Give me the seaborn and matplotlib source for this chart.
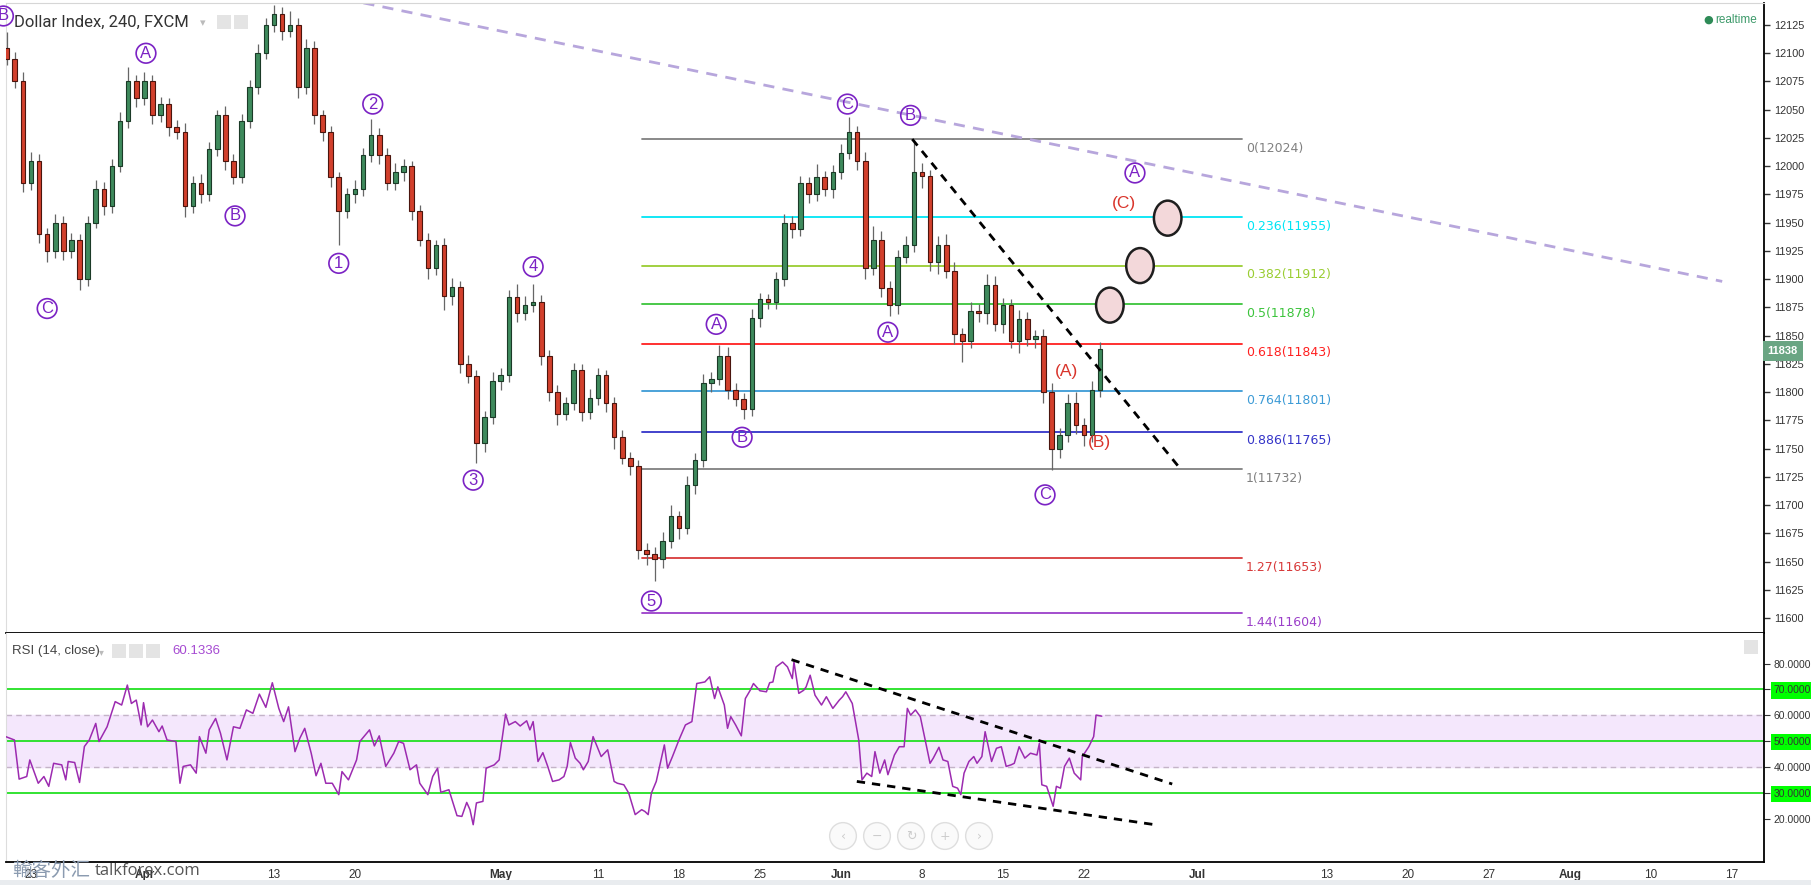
import numpy as np
import pandas as pd
import seaborn as sns
import matplotlib.pyplot as plt
import matplotlib.transforms as mtransforms
from matplotlib.patches import Ellipse, Rectangle

# ---- data (x = trading day number, 0 = 19 Mar 2015) ----
first_open = 12105
closes = [12095, 12075, 11985, 12005, 11940, 11925, 11950, 11925, 11935, 11900,
          11950, 11980, 11965, 12000, 12040, 12075, 12060, 12075, 12045, 12055,
          12035, 12030, 11965, 11985, 11975, 12015, 12045, 12005, 11990, 12040,
          12070, 12100, 12125, 12135, 12120, 12125, 12070, 12105, 12045, 12030,
          11990, 11960, 11975, 11980, 12010, 12028, 12010, 11985, 11995, 12000,
          11960, 11935, 11910, 11930, 11885, 11893, 11825, 11814, 11755, 11778,
          11810, 11815, 11884, 11870, 11877, 11880, 11832, 11800, 11781, 11790,
          11820, 11782, 11795, 11815, 11790, 11760, 11742, 11735, 11660, 11657,
          11652, 11668, 11690, 11680, 11718, 11740, 11808, 11812, 11832, 11802,
          11794, 11785, 11866, 11882, 11880, 11900, 11950, 11944, 11985, 11975,
          11990, 11980, 11995, 12012, 12030, 12005, 11910, 11935, 11892, 11877,
          11920, 11930, 11995, 11991, 11915, 11930, 11907, 11851, 11845, 11872,
          11870, 11895, 11860, 11877, 11845, 11865, 11847, 11850, 11800, 11750,
          11762, 11790, 11771, 11762, 11802, 11838]
wick_hi = [14, 6, 8, 8, 6, 5, 8, 6, 6, 5,
           6, 8, 6, 6, 8, 13, 6, 8, 6, 6,
           5, 6, 8, 6, 8, 6, 5, 8, 6, 6,
           6, 8, 6, 8, 6, 12, 6, 8, 6, 5,
           6, 5, 6, 8, 6, 14, 6, 6, 8, 6,
           5, 6, 6, 5, 6, 8, 5, 8, 6, 5,
           8, 6, 6, 12, 8, 16, 6, 5, 6, 6,
           6, 5, 8, 6, 5, 6, 6, 5, 5, 6,
           6, 8, 10, 5, 8, 6, 8, 6, 10, 8,
           6, 5, 8, 6, 5, 6, 8, 6, 6, 5,
           12, 6, 6, 8, 14, 6, 8, 12, 8, 6,
           6, 8, 28, 8, 6, 8, 10, 8, 6, 8,
           6, 10, 8, 6, 5, 8, 6, 5, 6, 8,
           6, 8, 10, 6, 8, 6]
wick_lo = [5, 6, 8, 6, 8, 10, 6, 8, 6, 10,
           6, 5, 8, 6, 5, 6, 8, 6, 8, 6,
           8, 6, 10, 6, 8, 6, 6, 8, 6, 5,
           6, 6, 5, 6, 8, 6, 10, 6, 8, 8,
           8, 30, 6, 8, 6, 6, 8, 6, 6, 8,
           8, 6, 10, 6, 12, 8, 8, 6, 18, 8,
           6, 8, 6, 8, 6, 6, 8, 8, 10, 6,
           6, 8, 6, 6, 8, 10, 6, 8, 8, 10,
           19, 8, 6, 10, 6, 8, 6, 8, 6, 8,
           6, 9, 6, 8, 6, 6, 6, 8, 6, 8,
           6, 6, 8, 6, 6, 8, 10, 6, 8, 10,
           8, 6, 6, 10, 8, 10, 6, 8, 18, 6,
           8, 10, 6, 8, 6, 10, 6, 8, 10, 19,
           8, 6, 8, 10, 6, 6]

rsi_day = [0.44, 0.98, 1.27, 1.74, 1.93, 2.45, 2.8, 3.1, 3.4, 3.9, 4.15, 4.3, 4.7, 5.0,
           5.3, 5.6, 6.0, 6.2, 6.7, 7.2, 7.6, 7.95, 8.2, 8.5, 8.8, 8.95, 9.2, 9.5, 9.9,
           10.1, 10.4, 10.95, 11.2, 11.4, 11.85, 12.2, 12.4, 12.8, 13.0, 13.4, 13.7,
           14.1, 14.5, 14.9, 15.3, 15.7, 16.1, 16.5, 16.9, 17.3, 17.6, 17.9, 18.3,
           18.6, 18.9, 19.3, 19.6, 19.9, 20.2, 20.6, 21.0, 21.2, 21.6, 22.1, 22.3,
           22.9, 23.2, 23.5, 23.9, 24.4, 24.7, 25.0, 25.4, 25.8, 26.0, 26.5, 26.8,
           27.1, 27.3, 27.8, 28.3, 28.6, 28.9, 29.1, 29.3, 29.5, 29.9, 30.1, 30.6,
           30.9, 31.3, 31.5, 31.9, 32.2, 32.6, 32.8, 33.0, 33.3, 33.6, 33.9, 34.2,
           34.6, 34.9, 35.1, 35.3, 35.6, 35.9, 36.1, 36.4, 36.7, 37.2, 37.6, 38.0,
           38.2, 38.6, 38.9, 39.3, 39.7, 39.9, 40.1, 40.3, 40.6, 41.1, 41.3, 41.6,
           42.0, 42.4, 42.8, 43.1, 43.6, 43.9, 44.2, 44.4, 44.8, 45.0, 45.2, 45.5,
           45.85, 46.1, 46.4, 46.6, 47.0, 47.4, 47.6, 47.8, 48.0, 48.4, 48.7, 49.0,
           49.1, 49.4, 49.7, 49.85, 50.1, 50.4, 50.8, 51.1, 51.5, 51.9, 52.1, 52.3,
           52.7, 53.1, 53.3, 53.6, 53.9, 54.1, 54.4, 54.7, 54.9, 55.3, 55.6, 55.9,
           56.1, 56.3, 56.6, 56.9, 57.2, 57.5, 57.7, 58.05, 58.3, 58.6, 58.9, 59.2,
           59.4, 59.6, 59.9, 60.2, 60.4, 60.7, 60.9, 61.3, 61.6, 61.9, 62.2, 62.5,
           62.7, 63.0, 63.35, 63.7, 64.1, 64.25, 64.4, 64.7, 65.1, 65.3, 65.55, 65.8,
           66.1, 66.4, 66.8, 66.9, 67.3, 67.6, 67.75, 68.1]
rsi_val = [51.8, 50.5, 35.4, 36.4, 42.8, 33.8, 36.4, 32.6, 41.5, 40.9, 35.1, 42.2, 41.8, 34.1,
           48.0, 50.5, 56.9, 49.9, 55.6, 65.3, 64.0, 71.7, 64.6, 65.9, 56.3, 64.9, 55.6, 58.2, 53.7,
           55.9, 50.5, 49.9, 33.8, 40.3, 40.9, 37.7, 51.8, 45.4, 54.4, 58.8, 53.1,
           42.8, 55.6, 55.0, 62.1, 60.8, 68.2, 63.1, 72.6, 62.7, 57.6, 63.3, 46.0,
           51.2, 55.0, 45.4, 36.7, 41.5, 33.8, 33.8, 29.4, 38.3, 35.1, 42.8, 49.9,
           54.4, 48.2, 52.1, 40.3, 45.4, 49.9, 49.2, 39.0, 40.9, 33.8, 29.4, 36.4,
           39.6, 30.3, 31.3, 21.3, 21.0, 26.4, 23.6, 17.8, 26.2, 26.8, 39.6, 40.9,
           42.8, 60.5, 56.3, 57.6, 55.9, 57.9, 54.4, 57.6, 42.2, 45.6, 40.3, 34.5,
           35.1, 36.4, 40.3, 49.5, 43.5, 41.5, 39.0, 42.2, 51.8, 44.1, 46.7, 34.5,
           33.8, 33.2, 30.0, 21.7, 23.6, 22.9, 21.7, 30.0, 34.5, 48.6, 39.6, 44.1,
           50.5, 56.3, 57.6, 72.3, 72.9, 74.9, 66.5, 71.0, 64.0, 55.0, 59.5, 56.3,
           52.1, 66.5, 69.7, 72.3, 69.5, 69.1, 72.6, 72.9, 78.7, 80.6, 78.7, 74.2,
           80.6, 68.5, 69.7, 71.0, 75.5, 67.8, 64.0, 67.2, 62.7, 65.9, 67.2, 69.1,
           64.6, 50.5, 35.1, 37.7, 36.4, 46.0, 37.7, 42.8, 37.1, 44.7, 47.9, 47.9,
           62.7, 60.1, 62.1, 59.5, 50.5, 41.5, 43.5, 47.7, 42.8, 42.2, 32.6, 31.9,
           29.4, 37.7, 42.2, 44.1, 41.5, 44.1, 53.7, 42.2, 47.3, 47.9, 40.3, 40.9,
           41.5, 47.9, 43.5, 45.4, 44.7, 49.2, 33.2, 32.6, 24.9, 32.6, 31.9, 40.3,
           43.5, 37.7, 35.1, 44.1, 47.9, 51.8, 60.1, 59.7]

fib_ratio = ['0', '0.236', '0.382', '0.5', '0.618', '0.764', '0.886', '1', '1.27', '1.44']
fib_price = [12024, 11955, 11912, 11878, 11843, 11801, 11765, 11732, 11653, 11604]
fib_color = ['#808080', '#00e5f5', '#9acd32', '#3cc43c', '#ff2020', '#3d9bd6',
             '#3434c8', '#808080', '#d83a3a', '#9b3fc9']
fib_span = [39.7, 76.75]

wave_text = ['B', 'C', 'A', 'B', '1', '2', '3', '4', '5', 'A', 'B', 'C', 'A', 'B', 'C', 'A']
wave_day = [0.3, 3.0, 9.1, 14.6, 21.0, 23.1, 29.3, 33.0, 40.3, 44.3, 45.9, 52.4, 54.9, 56.3, 64.6, 70.15]
wave_price = [12133, 11874, 12100, 11956, 11914, 12055, 11722, 11911, 11615, 11860,
              11760, 12055, 11853, 12045, 11709, 11994]
sub_text = ['(A)', '(B)', '(C)']
sub_day = [65.93, 67.98, 69.5]
sub_price = [11818, 11755, 11967]

target_day = [68.6, 70.46, 72.17]
target_price = [11877, 11912, 11954]

resist_day, resist_price = [20.0, 106.4], [12152, 11898]
wedge_day, wedge_price = [56.4, 72.9], [12024, 11733]
rsi_top_day, rsi_top_val = [48.95, 72.45], [81.5, 33.5]
rsi_bot_day, rsi_bot_val = [52.98, 71.6], [34.5, 17.6]

tick_dates = ['2015-03-23', '2015-04-01', '2015-04-13', '2015-04-20', '2015-05-01',
              '2015-05-11', '2015-05-18', '2015-05-25', '2015-06-01', '2015-06-08',
              '2015-06-15', '2015-06-22', '2015-07-01', '2015-07-13', '2015-07-20',
              '2015-07-27', '2015-08-03', '2015-08-10', '2015-08-17']
tick_text = ['23', 'Apr', '13', '20', 'May', '11', '18', '25', 'Jun', '8', '15', '22',
             'Jul', '13', '20', '27', 'Aug', '10', '17']

last_price = 11838
rsi_last = '60.1336'

# ---- figure ----
sns.set_style('white')
plt.rcParams['font.family'] = ['Liberation Sans', 'DejaVu Sans']

W, H = 1811, 885
fig = plt.figure(figsize=(W / 100, H / 100), dpi=100)


def fpos(x, y):
    return x / W, 1 - y / H


ax = fig.add_axes([6 / W, 1 - 633 / H, 1758 / W, 630 / H])
ax2 = fig.add_axes([6 / W, 1 - 862 / H, 1758 / W, 229 / H], sharex=ax)

# candles
df = pd.DataFrame({'day': np.arange(1, len(closes) + 1) * 0.5, 'close': closes})
df['open'] = [first_open] + closes[:-1]
df['high'] = df[['open', 'close']].max(axis=1) + np.array(wick_hi)
df['low'] = df[['open', 'close']].min(axis=1) - np.array(wick_lo)
up = df['close'] >= df['open']
ax.vlines(df['day'], df['low'], df['high'], color='#666666', lw=0.9, zorder=3)
for mask, col, edge in [(up, '#3e8a5c', '#1b3a27'), (~up, '#d2402c', '#4a150e')]:
    d = df[mask]
    ax.bar(d['day'], np.maximum((d['close'] - d['open']).abs(), 1.5),
           bottom=d[['open', 'close']].min(axis=1), width=0.28,
           color=col, edgecolor=edge, lw=0.8, zorder=4)

# fibonacci levels
for r, p, c in zip(fib_ratio, fib_price, fib_color):
    ax.plot(fib_span, [p, p], color=c, lw=1.3, zorder=2)
    ax.annotate(f'{r}({p})', (fib_span[1], p), xytext=(3, -2), textcoords='offset points',
                ha='left', va='top', color=c, fontsize=9, family='DejaVu Sans')

# trend lines
ax.plot(resist_day, resist_price, color='#b7a6dc', lw=2, ls=(0, (4, 3)), zorder=2)
ax.plot(wedge_day, wedge_price, color='black', lw=2, ls=(0, (3, 2.5)), zorder=5)

# target ellipses
for d, p in zip(target_day, target_price):
    ax.add_patch(Ellipse((d, p), 1.7, 31, fc='#f3d8da', ec='#1e1e1e', lw=1.8, zorder=6))

# wave labels
purple = '#7b22c4'
for t, d, p in zip(wave_text, wave_day, wave_price):
    ax.text(d, p, t, ha='center', va='center', color=purple, fontsize=12, zorder=7,
            bbox=dict(boxstyle='circle,pad=0.14', fc='none', ec=purple, lw=1.2))
for t, d, p in zip(sub_text, sub_day, sub_price):
    ax.text(d, p, t, ha='center', va='center', color='#d9342b', fontsize=12.5, zorder=7)

ax.set_xlim(0.46, 108.98)
ax.set_ylim(11586.7, 12144.5)
ax.yaxis.tick_right()
ax.set_yticks(np.arange(11600, 12126, 25))
ax.set_yticklabels([str(v) for v in range(11600, 12126, 25)])
ax.tick_params(axis='y', direction='out', length=4, width=1, colors='#333333',
               labelsize=7.8, pad=3)
ax.tick_params(axis='x', bottom=False, labelbottom=False)
tr = mtransforms.blended_transform_factory(ax.transAxes, ax.transData)
ax.text(1.002, last_price - 2, str(last_price), transform=tr, ha='left', va='center',
        color='white', fontsize=8, fontweight='bold', zorder=10,
        bbox=dict(boxstyle='square,pad=0.45', fc='#6aa583', ec='none'))

# RSI pane
ax2.axhspan(40, 60, color='#f4e7fc', zorder=0)
for lvl in (40, 60):
    ax2.axhline(lvl, color='#c4b4c8', lw=1, ls=(0, (4, 3)), zorder=1)
for lvl in (30, 50, 70):
    ax2.axhline(lvl, color='#22e022', lw=1.3, zorder=1)
sns.lineplot(x=rsi_day, y=rsi_val, ax=ax2, color='#9c2bb0', lw=1.1, zorder=3)
ax2.plot(rsi_top_day, rsi_top_val, color='black', lw=2, ls=(0, (3, 2.5)), zorder=4)
ax2.plot(rsi_bot_day, rsi_bot_val, color='black', lw=2, ls=(0, (3, 2.5)), zorder=4)
ax2.set_ylim(3.4, 91.8)
ax2.yaxis.tick_right()
ax2.set_yticks(np.arange(20, 81, 10))
ax2.set_yticklabels([f'{v:.4f}' for v in range(20, 81, 10)])
ax2.tick_params(axis='y', direction='out', length=4, colors='#333333', labelsize=7.5, pad=3)
for lab in ax2.get_yticklabels():
    if lab.get_text() in ('30.0000', '50.0000', '70.0000'):
        lab.set_bbox(dict(boxstyle='square,pad=0.3', fc='#00ff00', ec='none'))

dates = pd.bdate_range('2015-03-19', periods=115)
tick_pos = [dates.get_loc(pd.Timestamp(d)) for d in tick_dates]
ax2.set_xticks(tick_pos)
ax2.set_xticklabels(tick_text)
ax2.tick_params(axis='x', direction='out', length=3, colors='#333333', labelsize=8.5, pad=2)
for lab in ax2.get_xticklabels():
    if lab.get_text() in ('Apr', 'May', 'Jun', 'Jul', 'Aug'):
        lab.set_fontweight('bold')
ax2.set_xlabel('')
ax2.set_ylabel('')

for a in (ax, ax2):
    for s in ('right', 'bottom'):
        a.spines[s].set_color('black')
        a.spines[s].set_linewidth(1.3)
    a.spines['left'].set_color('#dddddd')
    a.spines['left'].set_linewidth(0.8)
ax.spines['top'].set_color('#d6d6d6')
ax2.spines['top'].set_visible(False)

# header texts
fig.text(*fpos(14, 22), 'Dollar Index, 240, FXCM', ha='left', va='center',
         fontsize=12, color='#333333', family='Roboto')
fig.text(*fpos(200, 23), '▾', ha='left', va='center', fontsize=8, color='#bbbbbb',
         family='DejaVu Sans')
for x0 in (217, 234):
    fig.patches.append(Rectangle(fpos(x0, 29), 14 / W, 14 / H, transform=fig.transFigure,
                                 fc='#e4e4e4', ec='none'))
fig.text(*fpos(1703, 20), '●', ha='left', va='center', fontsize=8, color='#2e8b57',
         family='DejaVu Sans')
fig.text(*fpos(1715, 20), 'realtime', ha='left', va='center', fontsize=8.5, color='#3d9a6a')

fig.text(*fpos(12, 651), 'RSI (14, close)', ha='left', va='center', fontsize=9.5,
         color='#444444')
fig.text(*fpos(99, 652), '▾', ha='left', va='center', fontsize=7, color='#bbbbbb',
         family='DejaVu Sans')
for x0 in (112, 129, 146):
    fig.patches.append(Rectangle(fpos(x0, 658), 14 / W, 14 / H, transform=fig.transFigure,
                                 fc='#e4e4e4', ec='none'))
fig.text(*fpos(172, 651), rsi_last, ha='left', va='center', fontsize=9.5, color='#a64ad2')
fig.patches.append(Rectangle(fpos(1744, 654), 14 / W, 14 / H, transform=fig.transFigure,
                             fc='#e4e4e4', ec='none'))

for x0, sym in zip((843, 877, 911, 945, 979), ('‹', '−', '↻', '+', '›')):
    fig.text(*fpos(x0, 836), sym, ha='center', va='center', fontsize=9, color='#cccccc',
             family='DejaVu Sans',
             bbox=dict(boxstyle='circle,pad=0.55', fc='#fafafa', ec='#dedede', lw=1))

fig.text(*fpos(12, 871), '輸客外汇', ha='left', va='center', fontsize=14, color='#8b9bb0',
         family=['Noto Sans CJK SC', 'DejaVu Sans'])
fig.text(*fpos(95, 871), 'talkforex.com', ha='left', va='center', fontsize=12,
         color='#555555', family='Open Sans')
fig.patches.append(Rectangle((0, 0), 1, 5 / H, transform=fig.transFigure,
                             fc='#e9ecef', ec='none'))

fig.savefig('out.png', dpi=100)
